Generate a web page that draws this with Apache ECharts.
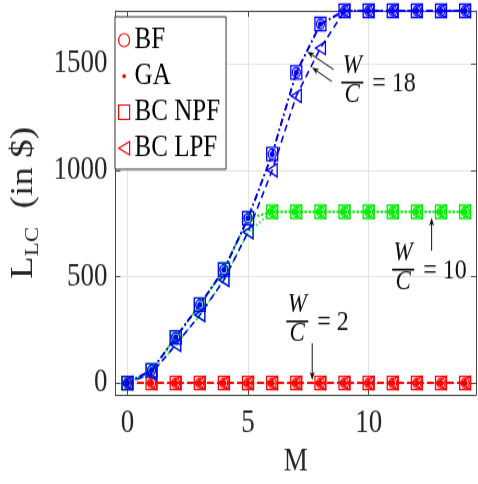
<!DOCTYPE html>
<html>
<head>
<meta charset="utf-8">
<script src="https://cdn.jsdelivr.net/npm/echarts@6/dist/echarts.min.js"></script>
<style>
  html, body { margin: 0; padding: 0; background: #fff; overflow: hidden; }
  #wrap { width: 478px; height: 484px; overflow: hidden; }
  /* the figure is drawn slightly taller than wide, as in the exported plot */
  #chart { width: 478px; height: 403px; transform: scaleY(1.2); transform-origin: 0 0; }
</style>
</head>
<body>
<div id="wrap"><div id="chart"></div></div>
<script>
// Number of monitored links M
const M = [0, 1, 2, 3, 4, 5, 6, 7, 8, 9, 10, 11, 12, 13, 14];

// Loss L_LC (in $) for W/C = 2
const bf2  = [0, 0, 0, 0, 0, 0, 0, 0, 0, 0, 0, 0, 0, 0, 0];
const ga2  = [0, 0, 0, 0, 0, 0, 0, 0, 0, 0, 0, 0, 0, 0, 0];
const npf2 = [0, 0, 0, 0, 0, 0, 0, 0, 0, 0, 0, 0, 0, 0, 0];
const lpf2 = [0, 0, 0, 0, 0, 0, 0, 0, 0, 0, 0, 0, 0, 0, 0];

// W/C = 10
const bf10  = [0, 60, 215, 368, 533, 775, 805, 805, 805, 805, 805, 805, 805, 805, 805];
const ga10  = [0, 60, 215, 368, 533, 775, 805, 805, 805, 805, 805, 805, 805, 805, 805];
const npf10 = [0, 60, 215, 368, 533, 775, 805, 805, 805, 805, 805, 805, 805, 805, 805];
const lpf10 = [0, 45, 180, 320, 485, 710, 805, 805, 805, 805, 805, 805, 805, 805, 805];

// W/C = 18
const bf18  = [0, 60, 215, 368, 533, 775, 1076, 1460, 1688, 1750, 1750, 1750, 1750, 1750, 1750];
const ga18  = [0, 60, 215, 368, 533, 775, 1076, 1460, 1688, 1750, 1750, 1750, 1750, 1750, 1750];
const npf18 = [0, 60, 215, 368, 533, 775, 1076, 1460, 1688, 1750, 1750, 1750, 1750, 1750, 1750];
const lpf18 = [0, 45, 180, 320, 485, 710, 1000, 1350, 1575, 1750, 1750, 1750, 1750, 1750, 1750];

const methods = ['BF', 'GA', 'BC NPF', 'BC LPF'];

// annotation anchors in data units: fraction bar centre, arrow tail -> head
const notes = [
  { label: '2',  bar: [7.04, 290],  arrows: [[[7.66, 187], [7.66, 14]]] },
  { label: '10', bar: [11.43, 533], arrows: [[[12.61, 622], [12.61, 777]]] },
  { label: '18', bar: [9.32, 1413], arrows: [[[8.55, 1474], [7.45, 1558]], [[8.47, 1418], [7.65, 1483]]] }
];

const FONT = '"Liberation Serif", "Times New Roman", serif';
const RED = '#ff0000', GREEN = '#00ee00', BLUE = '#0000ff';

const groups = [
  { color: RED,   sets: [bf2, ga2, npf2, lpf2],     dashes: [[6, 4], [6, 4], [6, 4], [6, 4]] },
  { color: GREEN, sets: [bf10, ga10, npf10, lpf10], dashes: [[1.5, 2.5], [1.5, 2.5], [1.5, 2.5], [1.5, 2.5]] },
  { color: BLUE,  sets: [bf18, ga18, npf18, lpf18], dashes: [[6, 3, 1.5, 3], [6, 3, 1.5, 3], [6, 3, 1.5, 3], [6, 4]] }
];

const TRI = 'path://M0,5L10,0L10,10Z';
const DOT = 'path://M0,0M12,12M4,6A2,2,0,1,0,8,6A2,2,0,1,0,4,6Z';

function markerFor(k, color) {
  if (k === 0) return { symbol: 'circle', symbolSize: 8, itemStyle: { color: 'rgba(0,0,0,0)', borderColor: color, borderWidth: 1.3 } };
  if (k === 1) return { symbol: 'circle', symbolSize: 5, itemStyle: { color: color, borderWidth: 0 } };
  if (k === 2) return { symbol: 'rect', symbolSize: 11, itemStyle: { color: 'rgba(0,0,0,0)', borderColor: color, borderWidth: 1.3 } };
  return { symbol: TRI, symbolSize: [10, 11], symbolKeepAspect: false, itemStyle: { color: 'rgba(0,0,0,0)', borderColor: color, borderWidth: 1.3 } };
}

const series = [];
groups.forEach(g => {
  g.sets.forEach((vals, k) => {
    const mk = markerFor(k, g.color);
    series.push(Object.assign({
      type: 'line',
      name: methods[k],
      data: M.map((m, i) => [m, vals[i]]),
      clip: false,
      showSymbol: true,
      lineStyle: { color: g.color, width: 1.6, type: g.dashes[k] },
      emphasis: { disabled: true },
      animation: false
    }, mk));
  });
});

const legendIcons = [
  { name: 'BF', icon: 'circle', itemStyle: { color: 'rgba(0,0,0,0)', borderColor: RED, borderWidth: 1.2 } },
  { name: 'GA', icon: DOT, itemStyle: { color: RED, borderWidth: 0 } },
  { name: 'BC NPF', icon: 'rect', itemStyle: { color: 'rgba(0,0,0,0)', borderColor: RED, borderWidth: 1.2 } },
  { name: 'BC LPF', icon: TRI, itemStyle: { color: 'rgba(0,0,0,0)', borderColor: RED, borderWidth: 1.2 } }
];

const axisColor = '#4a4a4a';
const labelColor = '#262626';
const xMin = -0.5, xMax = 14.45, yMin = -56, yMax = 1750;
const plainNumber = v => String(v);

const chart = echarts.init(document.getElementById('chart'), null, { renderer: 'canvas' });

chart.setOption({
  animation: false,
  backgroundColor: '#fff',
  grid: { left: 109, right: 2, top: 9, bottom: 72, containLabel: false },
  legend: {
    data: legendIcons,
    orient: 'vertical',
    left: 115, top: 14,
    padding: [7, 6, 5, 3],
    itemGap: 5,
    itemWidth: 11, itemHeight: 12,
    backgroundColor: '#fff',
    borderColor: '#333', borderWidth: 1,
    selectedMode: false,
    textStyle: { fontFamily: FONT, fontSize: 25, color: '#000', lineHeight: 25 }
  },
  xAxis: [
    {
      type: 'value', min: xMin, max: xMax, splitNumber: 3,
      name: 'M', nameLocation: 'middle', nameGap: 41,
      nameTextStyle: { fontFamily: FONT, fontSize: 27, color: labelColor },
      axisLine: { show: true, onZero: false, lineStyle: { color: axisColor, width: 1 } },
      axisTick: { show: true, inside: true, length: 5, lineStyle: { color: axisColor } },
      axisLabel: { fontFamily: FONT, fontSize: 27, color: labelColor, margin: 10, showMinLabel: false, showMaxLabel: false, formatter: plainNumber },
      splitLine: { show: true, lineStyle: { color: '#e3e3e3', width: 1 } }
    },
    {
      type: 'value', position: 'top', min: xMin, max: xMax, splitNumber: 3,
      axisLine: { show: true, onZero: false, lineStyle: { color: axisColor, width: 1 } },
      axisTick: { show: true, inside: true, length: 5, lineStyle: { color: axisColor } },
      axisLabel: { show: false }, splitLine: { show: false }
    }
  ],
  yAxis: [
    {
      type: 'value', min: yMin, max: yMax, splitNumber: 4,
      name: '{m|L}{s|LC}{m|  (in $)}', nameLocation: 'middle', nameGap: 60,
      nameTextStyle: {
        color: labelColor,
        rich: {
          m: { fontFamily: FONT, fontSize: 31, color: labelColor, lineHeight: 38 },
          s: { fontFamily: FONT, fontSize: 19, color: labelColor, verticalAlign: 'bottom' }
        }
      },
      axisLine: { show: true, onZero: false, lineStyle: { color: axisColor, width: 1 } },
      axisTick: { show: true, inside: true, length: 5, lineStyle: { color: axisColor } },
      axisLabel: { fontFamily: FONT, fontSize: 27, color: labelColor, margin: 8, showMinLabel: false, showMaxLabel: false, formatter: plainNumber },
      splitLine: { show: true, lineStyle: { color: '#e3e3e3', width: 1 } }
    },
    {
      type: 'value', position: 'right', min: yMin, max: yMax, splitNumber: 4,
      axisLine: { show: true, onZero: false, lineStyle: { color: axisColor, width: 1 } },
      axisTick: { show: true, inside: true, length: 5, lineStyle: { color: axisColor } },
      axisLabel: { show: false }, splitLine: { show: false }
    }
  ],
  series: series
});

// W/C annotations: fraction, value and arrows pointing at the curves
function drawNotes() {
  const els = [];
  const toPx = p => chart.convertToPixel({ xAxisIndex: 0, yAxisIndex: 0 }, p);
  notes.forEach(n => {
    const [bx, by] = toPx(n.bar);
    els.push({ type: 'line', shape: { x1: bx - 11, y1: by, x2: bx + 11, y2: by }, style: { stroke: '#000', lineWidth: 1.6 }, z: 20 });
    els.push({ type: 'text', x: bx, y: by - 2, z: 20,
      style: { text: 'W', font: 'italic 23px ' + FONT, align: 'center', verticalAlign: 'bottom', fill: '#111' } });
    els.push({ type: 'text', x: bx, y: by - 1, z: 20,
      style: { text: 'C', font: 'italic 23px ' + FONT, align: 'center', verticalAlign: 'top', fill: '#111' } });
    els.push({ type: 'text', x: bx + 20, y: by + 1, z: 20,
      style: { text: '= ' + n.label, font: '24px ' + FONT, align: 'left', verticalAlign: 'middle', fill: '#111' } });
    n.arrows.forEach(a => {
      const [x1, y1] = toPx(a[0]);
      const [x2, y2] = toPx(a[1]);
      const ang = Math.atan2(y2 - y1, x2 - x1);
      const L = 7, W = 2.6;
      const c = Math.cos(ang), s = Math.sin(ang);
      els.push({ type: 'line', z: 20, shape: { x1: x1, y1: y1, x2: x2 - c * 4, y2: y2 - s * 4 }, style: { stroke: '#111', lineWidth: 1 } });
      els.push({ type: 'polygon', z: 20, shape: { points: [
        [x2, y2],
        [x2 - L * c + W * s, y2 - L * s - W * c],
        [x2 - L * c * 0.7, y2 - L * s * 0.7],
        [x2 - L * c - W * s, y2 - L * s + W * c]
      ] }, style: { fill: '#111' } });
    });
  });
  chart.setOption({ graphic: { elements: els } });
}
drawNotes();
</script>
</body>
</html>
